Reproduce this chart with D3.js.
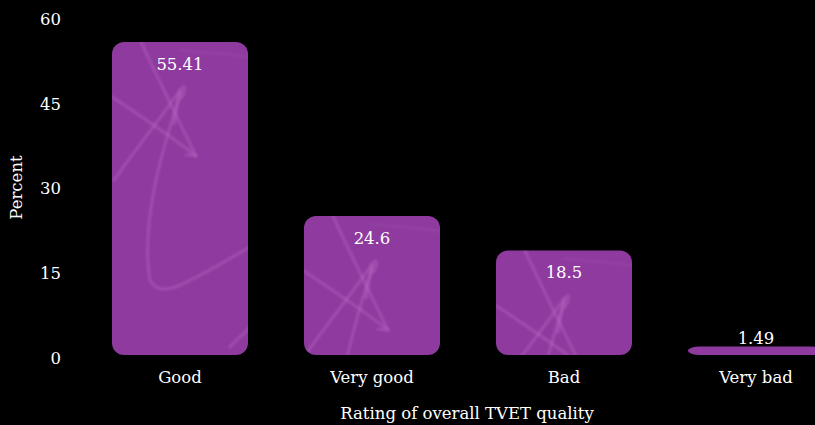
<!DOCTYPE html>
<html>
<head>
<meta charset="utf-8">
<script src="https://cdn.jsdelivr.net/npm/d3@7"></script>
<style>
  html, body { margin: 0; padding: 0; background: #000; overflow: hidden; }
  svg { display: block; }
  text { font-family: "DejaVu Serif", serif; fill: #fff; }
</style>
</head>
<body>
<script>
// Ratings and their share of respondents (%)
const categories = ["Good", "Very good", "Bad", "Very bad"];
const percents = [55.41, 24.6, 18.5, 1.49];
const yTicks = [0, 15, 30, 45, 60];
const xTitle = "Rating of overall TVET quality";
const yTitle = "Percent";

const W = 815, H = 425;
const FS = 16.5;

const svg = d3.select("body").append("svg").attr("width", W).attr("height", H);
svg.append("rect").attr("width", W).attr("height", H).attr("fill", "#000");

// Four bands, step 192, bar width 136; the last band runs past the right edge
const x = d3.scaleBand()
  .domain(categories)
  .range([112, 824])
  .paddingInner(56 / 192)
  .paddingOuter(0);

const y = d3.scaleLinear().domain([0, 60]).range([355, 16]);

// Y axis: labels only
const yAxis = svg.append("g")
  .attr("transform", "translate(61,3)")
  .call(d3.axisLeft(y).tickValues(yTicks).tickSize(0).tickPadding(0));
yAxis.select(".domain").remove();
yAxis.selectAll("text").attr("font-size", FS).attr("font-family", "DejaVu Serif").attr("fill", "#fff");

// X axis: labels only
const xAxis = svg.append("g")
  .attr("transform", `translate(0,${y(0)})`)
  .call(d3.axisBottom(x).tickSize(0).tickPadding(16));
xAxis.select(".domain").remove();
xAxis.selectAll("text").attr("font-size", FS).attr("font-family", "DejaVu Serif").attr("fill", "#fff");

svg.append("text")
  .attr("x", 467)
  .attr("y", H - 6)
  .attr("text-anchor", "middle")
  .attr("font-size", FS)
  .text(xTitle);

svg.append("text")
  .attr("transform", `translate(22,${(y(0) + y(60)) / 2 + 2}) rotate(-90)`)
  .attr("text-anchor", "middle")
  .attr("font-size", FS)
  .text(yTitle);

// Bars: rounded rectangles with a faint scribble texture
const barColor = "#8e3a9e";
const defs = svg.append("defs");
defs.append("filter").attr("id", "soft")
  .append("feGaussianBlur").attr("stdDeviation", 0.8);
const bars = svg.append("g");

// Texture strokes in bar-local coordinates (anchored at the bar's top-left corner)
const scribbles = [
  "M29,0 C45,35 65,75 84,114 L74,113",
  "M0,55 C30,75 60,95 84,114",
  "M68,48 C50,75 25,105 2,138",
  "M62,82 C64,70 66,58 68,50 C70,44 74,42 72,50 C71,55 68,58 66,56",
  "M68,52 C58,85 48,115 42,148 C36,180 33,210 38,238 C42,248 54,249 66,244 C90,234 115,218 138,205",
  "M138,285 L118,305",
  "M68,8 C90,12 115,10 138,16"
];

percents.forEach((v, i) => {
  const c = categories[i];
  const bx = x(c), bw = x.bandwidth();
  const by = y(v), bh = y(0) - y(v);
  const id = "clip" + i;
  // rx stays 12 while ry is clamped to half the height, giving a tapered end on thin bars
  defs.append("clipPath").attr("id", id)
    .append("rect").attr("x", bx).attr("y", by).attr("width", bw).attr("height", bh)
    .attr("rx", 12).attr("ry", 12);

  const g = bars.append("g");
  g.append("rect")
    .attr("x", bx).attr("y", by).attr("width", bw).attr("height", bh)
    .attr("rx", 12).attr("ry", 12).attr("fill", barColor);

  if (bh > 30) {
    const tex = g.append("g").attr("clip-path", `url(#${id})`)
      .append("g").attr("transform", `translate(${bx},${by})`)
      .attr("filter", "url(#soft)");
    tex.selectAll("path").data(scribbles).join("path")
      .attr("d", d => d)
      .attr("fill", "none")
      .attr("stroke", "#b868c6")
      .attr("stroke-opacity", (d, j) => j === 6 ? 0.12 : 0.4)
      .attr("stroke-width", 3.2)
      .attr("stroke-linecap", "round")
      .attr("stroke-linejoin", "round");
  }

  const inside = bh > 30;
  svg.append("text")
    .attr("x", bx + bw / 2)
    .attr("y", inside ? by + 28 : by - 3)
    .attr("text-anchor", "middle")
    .attr("font-size", FS)
    .text(v);
});
</script>
</body>
</html>
